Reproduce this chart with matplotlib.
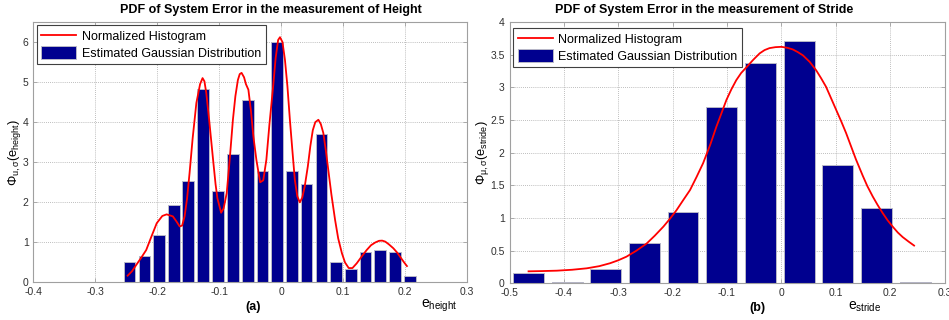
import matplotlib
matplotlib.use("Agg")
import matplotlib.pyplot as plt

plt.rcParams['font.family'] = ['Liberation Sans', 'DejaVu Sans']
plt.rcParams['mathtext.fontset'] = 'custom'
plt.rcParams['mathtext.rm'] = 'Liberation Sans'
plt.rcParams['mathtext.it'] = 'Liberation Sans'
plt.rcParams['mathtext.bf'] = 'Liberation Sans:bold'
plt.rcParams['axes.unicode_minus'] = False

# ---------------- Height error ----------------
height_centers = [-0.245, -0.221, -0.197, -0.173, -0.150, -0.126, -0.102,
                  -0.078, -0.054, -0.030, -0.007, 0.017, 0.041, 0.065,
                  0.089, 0.113, 0.136, 0.160, 0.184, 0.208]
height_density = [0.50, 0.67, 1.18, 1.94, 2.53, 4.82, 2.28, 3.20, 4.56, 2.78,
                  6.00, 2.78, 2.45, 3.71, 0.50, 0.33, 0.75, 0.80, 0.75, 0.17]

height_curve_x = [-0.248, -0.241, -0.234, -0.226, -0.218, -0.210, -0.201,
                  -0.192, -0.185, -0.175, -0.169, -0.164, -0.160, -0.156,
                  -0.152, -0.148, -0.143, -0.137, -0.131, -0.127, -0.124,
                  -0.121, -0.116, -0.110, -0.106, -0.103, -0.097, -0.093,
                  -0.088, -0.083, -0.078, -0.074, -0.070, -0.067, -0.064,
                  -0.060, -0.057, -0.053, -0.049, -0.045, -0.040, -0.034,
                  -0.029, -0.024, -0.019, -0.013, -0.009, -0.005, -0.002,
                  0.002, 0.006, 0.010, 0.014, 0.018, 0.022, 0.026, 0.030,
                  0.034, 0.038, 0.043, 0.047, 0.051, 0.055, 0.060, 0.064,
                  0.068, 0.072, 0.076, 0.081, 0.087, 0.092, 0.098, 0.103,
                  0.109, 0.115, 0.122, 0.130, 0.138, 0.145, 0.152, 0.158,
                  0.163, 0.168, 0.174, 0.181, 0.187, 0.193, 0.198, 0.203]
height_curve_y = [0.17, 0.28, 0.44, 0.62, 0.81, 1.13, 1.48,
                  1.66, 1.70, 1.65, 1.52, 1.40, 1.42, 1.65,
                  2.10, 2.73, 3.60, 4.48, 4.95, 5.10, 5.02,
                  4.73, 4.00, 3.06, 2.45, 2.10, 1.74, 1.85,
                  2.23, 3.10, 4.06, 4.65, 5.05, 5.20, 5.23,
                  5.12, 4.95, 4.81, 4.30, 3.65, 3.05, 2.50,
                  2.55, 3.06, 3.95, 4.90, 5.60, 6.05, 6.12,
                  6.00, 5.56, 4.90, 4.06, 3.30, 2.56, 2.15, 2.00,
                  2.12, 2.40, 2.90, 3.40, 3.80, 4.00, 4.06, 3.95,
                  3.73, 3.30, 2.81, 2.20, 1.56, 1.10, 0.73, 0.50,
                  0.36, 0.36, 0.48, 0.65, 0.81, 0.93, 1.00, 1.04,
                  1.045, 1.02, 0.95, 0.855, 0.75, 0.62, 0.51, 0.41]

# ---------------- Stride error ----------------
stride_centers = [-0.465, -0.394, -0.323, -0.252, -0.181, -0.110, -0.038,
                  0.033, 0.104, 0.175, 0.246]
stride_density = [0.168, 0.03, 0.229, 0.62, 1.093, 2.70, 3.377, 3.71, 1.815,
                  1.149, 0.03]

stride_curve_x = [-0.465, -0.440, -0.413, -0.385, -0.358, -0.335, -0.315,
                  -0.300, -0.285, -0.267, -0.248, -0.233, -0.217, -0.205,
                  -0.193, -0.181, -0.168, -0.156, -0.144, -0.131, -0.1195,
                  -0.110, -0.101, -0.092, -0.083, -0.074, -0.064, -0.052,
                  -0.040, -0.031, -0.022, -0.011, 0.000, 0.011, 0.021,
                  0.030, 0.0395, 0.052, 0.064, 0.073, 0.082, 0.091, 0.101,
                  0.110, 0.119, 0.128, 0.137, 0.1495, 0.158, 0.168, 0.177,
                  0.186, 0.195, 0.2046, 0.214, 0.223, 0.234, 0.244]
stride_curve_y = [0.186, 0.19, 0.196, 0.21, 0.232, 0.265, 0.31,
                  0.355, 0.41, 0.50, 0.61, 0.73, 0.87, 0.99,
                  1.12, 1.27, 1.43, 1.63, 1.84, 2.12, 2.40,
                  2.61, 2.81, 2.97, 3.11, 3.22, 3.31, 3.42,
                  3.52, 3.57, 3.60, 3.615, 3.62, 3.605, 3.58,
                  3.54, 3.49, 3.39, 3.26, 3.14, 3.01, 2.84, 2.65,
                  2.48, 2.30, 2.10, 1.90, 1.65, 1.49, 1.33, 1.20,
                  1.08, 0.97, 0.87, 0.78, 0.71, 0.64, 0.58]

height_xticks = [-0.4, -0.3, -0.2, -0.1, 0, 0.1, 0.2, 0.3]
height_xticklabels = ['-0.4', '-0.3', '-0.2', '-0.1', '0', '0.1', '0.2', '0.3']
height_yticks = [0, 1, 2, 3, 4, 5, 6]
stride_xticks = [-0.5, -0.4, -0.3, -0.2, -0.1, 0, 0.1, 0.2, 0.3]
stride_xticklabels = ['-0.5', '-0.4', '-0.3', '-0.2', '-0.1', '0', '0.1', '0.2', '0.3']
stride_yticks = [0, 0.5, 1, 1.5, 2, 2.5, 3, 3.5, 4]
stride_yticklabels = ['0', '0.5', '1', '1.5', '2', '2.5', '3', '3.5', '4']

BAR_COLOR = '#00008F'
BAR_EDGE = '#B8B8C8'
FRAME = '#A0A0A0'
TICK_TEXT = '#303030'

fig = plt.figure(figsize=(9.49, 3.2), dpi=100)
fig.patch.set_facecolor('white')

ax1 = fig.add_axes([0.0353, 0.1172, 0.4568, 0.8141])
ax2 = fig.add_axes([0.5369, 0.1141, 0.4584, 0.8172])


def style_axes(ax):
    for sp in ax.spines.values():
        sp.set_color(FRAME)
        sp.set_linewidth(0.8)
    ax.grid(True, linestyle=(0, (1, 1.5)), color='#A8A8A8', linewidth=0.6)
    ax.set_axisbelow(True)
    ax.tick_params(direction='in', length=3, width=0.6, color=FRAME,
                   labelsize=7.5, labelcolor=TICK_TEXT,
                   top=True, right=True)
    ax.tick_params(axis='x', pad=3.5)
    ax.tick_params(axis='y', pad=3.5)


def draw_panel(ax, centers, density, cx, cy, width):
    line, = ax.plot(cx, cy, color='#FF0000', linewidth=1.3, zorder=3)
    bars = ax.bar(centers, density, width=width, color=BAR_COLOR,
                  edgecolor=BAR_EDGE, linewidth=0.7, zorder=2)
    return line, bars


# Height panel
style_axes(ax1)
l1, b1 = draw_panel(ax1, height_centers, height_density,
                    height_curve_x, height_curve_y, 0.0236 * 0.8)
ax1.set_xlim(-0.4, 0.3)
ax1.set_ylim(0, 6.5)
ax1.set_xticks(height_xticks)
ax1.set_xticklabels(height_xticklabels)
ax1.set_yticks(height_yticks)
ax1.set_yticklabels([str(v) for v in height_yticks])
ax1.set_ylabel(r'$\Phi_{u,\sigma}(e_{height})$', fontsize=9.3, labelpad=0)
leg1 = ax1.legend([l1, b1], ['Normalized Histogram', 'Estimated Gaussian Distribution'],
                  loc='upper left', bbox_to_anchor=(0.008, 0.988),
                  borderaxespad=0, fontsize=9, handlelength=2.8,
                  handleheight=1.28, labelspacing=0.2, handletextpad=0.45,
                  borderpad=0.35, fancybox=False, framealpha=1)
leg1.get_frame().set_edgecolor('#404040')
leg1.get_frame().set_linewidth(0.8)

# Stride panel
style_axes(ax2)
l2, b2 = draw_panel(ax2, stride_centers, stride_density,
                    stride_curve_x, stride_curve_y, 0.0711 * 0.8)
ax2.set_xlim(-0.5, 0.3)
ax2.set_ylim(0, 4)
ax2.set_xticks(stride_xticks)
ax2.set_xticklabels(stride_xticklabels)
ax2.set_yticks(stride_yticks)
ax2.set_yticklabels(stride_yticklabels)
ax2.set_ylabel(r'$\Phi_{\mu,\sigma}(e_{stride})$', fontsize=9.3, labelpad=-0.5)
leg2 = ax2.legend([l2, b2], ['Normalized Histogram', 'Estimated Gaussian Distribution'],
                  loc='upper left', bbox_to_anchor=(0.0085, 0.977),
                  borderaxespad=0, fontsize=9, handlelength=2.8,
                  handleheight=1.28, labelspacing=0.2, handletextpad=0.45,
                  borderpad=0.35, fancybox=False, framealpha=1)
leg2.get_frame().set_edgecolor('#404040')
leg2.get_frame().set_linewidth(0.8)

W, H = 949.0, 320.0

# Titles
fig.text(270.7 / W, 1 - 9.5 / H, 'PDF of System Error in the measurement of Height',
         ha='center', va='center', fontsize=9, fontweight='bold')
fig.text(704.5 / W, 1 - 9.5 / H, 'PDF of System Error in the measurement of Stride',
         ha='center', va='center', fontsize=9, fontweight='bold')

# Panel captions and axis quantities
fig.text(253.3 / W, 1 - 306.7 / H, '(a)', ha='center', va='center',
         fontsize=9, fontweight='bold')
fig.text(757.3 / W, 1 - 308.5 / H, '(b)', ha='center', va='center',
         fontsize=9, fontweight='bold')
fig.text(421.0 / W, 1 - 305.5 / H, r'$e_{height}$', ha='left', va='center',
         fontsize=10)
fig.text(847.5 / W, 1 - 306.5 / H, r'$e_{stride}$', ha='left', va='center',
         fontsize=10)

fig.savefig('out.png', dpi=100, facecolor='white')
